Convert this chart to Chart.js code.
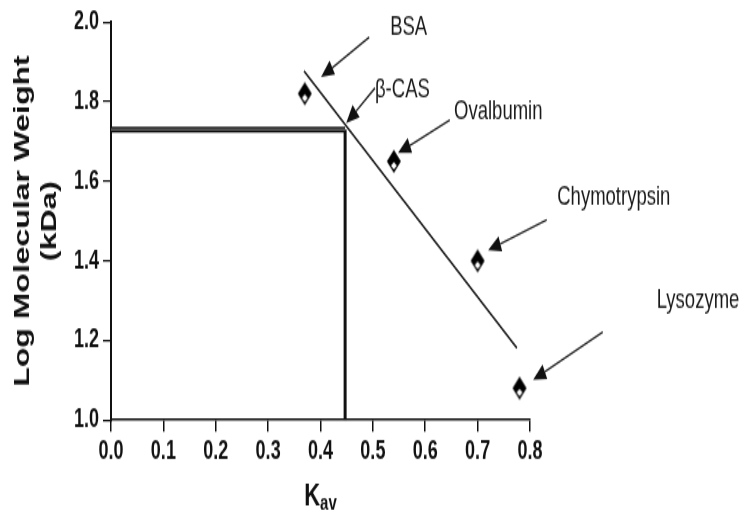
<!DOCTYPE html>
<html>
<head>
<meta charset="utf-8">
<script src="https://cdn.jsdelivr.net/npm/chart.js@4.4.1/dist/chart.umd.min.js"></script>
<style>
  html, body { margin: 0; padding: 0; background: #fff; overflow: hidden; }
  #page { width: 743px; height: 517px; overflow: hidden; position: relative; }
  /* the plot is laid out on a shorter canvas and stretched vertically */
  #wrap { position: absolute; left: 0; top: 0; width: 743px; height: 356px; transform-origin: 0 0; transform: scaleY(1.452247); }
  canvas { display: block; }
</style>
</head>
<body>
<div id="page"><div id="wrap"><canvas id="c" width="743" height="356"></canvas></div></div>
<script>
// Calibration standards: Kav vs log molecular weight
const proteins = ['BSA', 'Ovalbumin', 'Chymotrypsin', 'Lysozyme'];
const kav = [0.37, 0.54, 0.70, 0.78];
const logMW = [1.82, 1.65, 1.40, 1.08];

// Fitted calibration line (end points)
const fitKav = [0.3685, 0.775];
const fitLog = [1.877, 1.181];

// beta-casein read-off
const casKav = 0.447;
const casLog = 1.73;

// Axis ticks
const xTicks = [0.0, 0.1, 0.2, 0.3, 0.4, 0.5, 0.6, 0.7, 0.8];
const yTicks = [1.0, 1.2, 1.4, 1.6, 1.8, 2.0];

// Callout labels and arrows, anchored in data units
const calloutText = ['BSA', 'β-CAS', 'Ovalbumin', 'Chymotrypsin', 'Lysozyme'];
const calloutAt = [[0.533, 1.985], [0.504, 1.829], [0.655, 1.776], [0.852, 1.558], [1.042, 1.302]];
const arrowFrom = [[0.493, 1.962], [0.504, 1.834], [0.647, 1.754], [0.832, 1.503], [0.939, 1.221]];
const arrowTo = [[0.401, 1.862], [0.449, 1.746], [0.548, 1.671], [0.720, 1.427], [0.806, 1.101]];

const S = 517 / 356;           // vertical stretch of the page
const H = 356;

Chart.defaults.font.family = '"Liberation Sans", Arial, Helvetica, sans-serif';
Chart.defaults.color = '#111';

// Diamond marker: solid top, small white notch underneath
function diamondMarker() {
  const c = document.createElement('canvas');
  c.width = 16; c.height = 18;
  const g = c.getContext('2d');
  const cx = 8, cy = 9, hw = 7, hh = 8;
  g.beginPath();
  g.moveTo(cx, cy - hh); g.lineTo(cx + hw, cy); g.lineTo(cx, cy + hh); g.lineTo(cx - hw, cy);
  g.closePath();
  g.fillStyle = '#000'; g.fill();
  g.beginPath();
  g.moveTo(cx, cy + 0.5); g.lineTo(cx + 3, cy + 3); g.lineTo(cx, cy + 5.5); g.lineTo(cx - 3, cy + 3);
  g.closePath();
  g.fillStyle = '#fff'; g.fill();
  return c;
}

const pts = (xs, ys) => xs.map((v, i) => ({ x: v, y: ys[i] }));

const calloutPlugin = {
  id: 'callouts',
  afterDraw(chart) {
    const { ctx, scales: { x, y }, chartArea } = chart;
    ctx.save();
    // arrows
    ctx.strokeStyle = '#2a2a2a';
    ctx.fillStyle = '#111';
    ctx.lineWidth = 1.4;
    arrowFrom.forEach((f, i) => {
      const x0 = x.getPixelForValue(f[0]), y0 = y.getPixelForValue(f[1]);
      const x1 = x.getPixelForValue(arrowTo[i][0]), y1 = y.getPixelForValue(arrowTo[i][1]);
      const dx = x1 - x0, dy = y1 - y0, len = Math.hypot(dx, dy);
      const ux = dx / len, uy = dy / len;
      const L = Math.min(13, len * 0.8), W = 5.5;
      const bx = x1 - ux * L, by = y1 - uy * L;
      ctx.beginPath(); ctx.moveTo(x0, y0); ctx.lineTo(bx, by); ctx.stroke();
      ctx.beginPath();
      ctx.moveTo(x1, y1);
      ctx.lineTo(bx - uy * W, by + ux * W);
      ctx.lineTo(bx + uy * W, by - ux * W);
      ctx.closePath(); ctx.fill();
    });
    // labels
    ctx.font = '18.5px "Liberation Sans", Arial, sans-serif';
    ctx.textAlign = 'left';
    ctx.textBaseline = 'middle';
    ctx.fillStyle = '#1a1a1a';
    calloutText.forEach((t, i) => {
      ctx.fillText(t, x.getPixelForValue(calloutAt[i][0]), y.getPixelForValue(calloutAt[i][1]));
    });
    // x-axis title K with subscript av
    const fK = 'bold 22px "Liberation Sans", Arial, sans-serif';
    const fSub = 'bold 15px "Liberation Sans", Arial, sans-serif';
    ctx.font = fK; const wK = ctx.measureText('K').width;
    ctx.font = fSub; const wS = ctx.measureText('av').width;
    const cx = (chartArea.left + chartArea.right) / 2;
    const sx = cx - (wK + wS) / 2;
    ctx.textBaseline = 'alphabetic';
    ctx.fillStyle = '#111';
    ctx.font = fK; ctx.fillText('K', sx, 505 / S);
    ctx.font = fSub; ctx.fillText('av', sx + wK, 510 / S);
    ctx.restore();
  }
};

new Chart(document.getElementById('c'), {
  type: 'scatter',
  data: {
    datasets: [
      {
        label: 'Standards',
        data: pts(kav, logMW),
        pointStyle: diamondMarker(),
        pointRadius: 8,
        showLine: false
      },
      {
        label: 'Fit',
        data: pts(fitKav, fitLog),
        showLine: true,
        borderColor: '#222',
        borderWidth: 1.5,
        pointRadius: 0
      },
      {
        // light core of the double rule
        label: 'β-CAS log MW core',
        data: pts([0, casKav], [casLog, casLog]),
        showLine: true,
        borderColor: '#8a8a8a',
        borderWidth: 1,
        pointRadius: 0
      },
      {
        label: 'β-CAS log MW',
        data: pts([0, casKav], [casLog, casLog]),
        showLine: true,
        borderColor: '#111',
        borderWidth: 4,
        pointRadius: 0
      },
      {
        label: 'β-CAS Kav',
        data: pts([casKav, casKav], [casLog, 1.0]),
        showLine: true,
        borderColor: '#111',
        borderWidth: 3,
        pointRadius: 0
      }
    ]
  },
  options: {
    responsive: false,
    animation: false,
    events: [],
    layout: { padding: { left: 0, top: 22 / S, right: 743 - 530, bottom: 0 } },
    plugins: { legend: { display: false }, tooltip: { enabled: false } },
    scales: {
      x: {
        type: 'linear',
        min: 0, max: 0.8,
        afterBuildTicks: s => { s.ticks = xTicks.map(v => ({ value: v })); },
        afterFit: s => { s.height = H - 420 / S; },
        ticks: {
          callback: v => Number(v).toFixed(1),
          font: { size: 18, weight: 'bold' },
          color: '#111',
          padding: 3,
          maxRotation: 0
        },
        grid: { drawOnChartArea: false, drawTicks: true, tickLength: 8, color: '#111', lineWidth: 1.5 },
        border: { display: true, color: '#111', width: 1.5 }
      },
      y: {
        type: 'linear',
        min: 1.0, max: 2.0,
        afterBuildTicks: s => { s.ticks = yTicks.map(v => ({ value: v })); },
        afterFit: s => { s.width = 111; },
        ticks: {
          callback: v => Number(v).toFixed(1),
          font: { size: 18, weight: 'bold' },
          color: '#111',
          padding: 4
        },
        grid: { drawOnChartArea: false, drawTicks: true, tickLength: 8, color: '#111', lineWidth: 1.2 },
        border: { display: true, color: '#111', width: 2 },
        title: {
          display: true,
          text: ['Log Molecular Weight', '(kDa)'],
          font: { size: 22, weight: 'bold', lineHeight: 1.23 },
          color: '#111',
          padding: { top: 9, bottom: 0 }
        }
      }
    }
  },
  plugins: [calloutPlugin]
});
</script>
</body>
</html>
